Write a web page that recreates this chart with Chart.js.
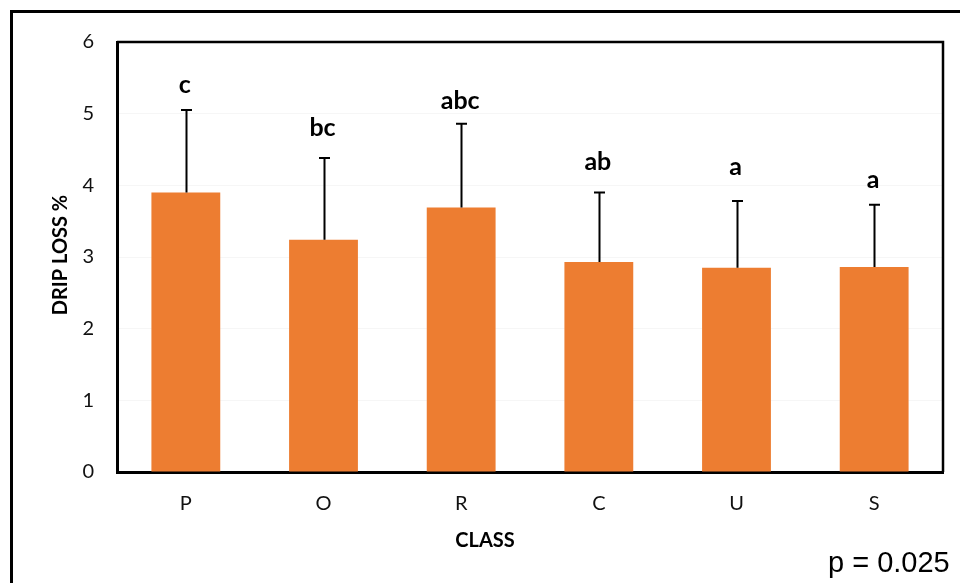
<!DOCTYPE html>
<html>
<head>
<meta charset="utf-8">
<script src="https://cdn.jsdelivr.net/npm/chart.js@4"></script>
<style>
  html, body { margin: 0; padding: 0; background: #fff; }
  #wrap { width: 960px; height: 583px; position: relative; }
</style>
</head>
<body>
<div id="wrap"><canvas id="c" width="960" height="583"></canvas></div>
<script>
// Drip loss by class: means, standard deviations and significance groups
const classes = ['P', 'O', 'R', 'C', 'U', 'S'];
const dripLoss = [3.90, 3.24, 3.69, 2.93, 2.85, 2.86];
const dripLossSD = [1.15, 1.14, 1.17, 0.97, 0.93, 0.87];
const groupLetters = ['c', 'bc', 'abc', 'ab', 'a', 'a'];
const yTicks = [0, 1, 2, 3, 4, 5, 6];
const pValueText = 'p = 0.025';

const ORANGE = '#ED7D31';
const TICK_FONT = { family: 'Lato', size: 20 };

// Error bars, group letters, plot frame, axis titles and outer border
const annotations = {
  id: 'annotations',
  afterDatasetsDraw(chart, args, opts) {
    const ctx = chart.ctx;
    const y = chart.scales.y;
    const meta = chart.getDatasetMeta(0);
    const area = chart.chartArea;

    ctx.save();
    // plot frame top and right edges
    ctx.strokeStyle = '#000';
    ctx.lineWidth = 2.5;
    ctx.beginPath();
    ctx.moveTo(area.left, area.top);
    ctx.lineTo(area.right, area.top);
    ctx.lineTo(area.right, area.bottom);
    ctx.stroke();

    // error bars (upper half only)
    ctx.lineWidth = 2;
    meta.data.forEach((bar, i) => {
      const topY = y.getPixelForValue(dripLoss[i] + dripLossSD[i]);
      const x = Math.round(bar.x) + 0.5;
      ctx.beginPath();
      ctx.moveTo(x, bar.y);
      ctx.lineTo(x, topY);
      ctx.moveTo(x - 5.5, topY);
      ctx.lineTo(x + 5.5, topY);
      ctx.stroke();

      // significance letter above the error bar
      ctx.fillStyle = '#000';
      ctx.font = 'bold 25px Lato';
      ctx.textAlign = 'center';
      ctx.textBaseline = 'alphabetic';
      ctx.fillText(groupLetters[i], bar.x - 1, topY - opts.letterGap[i]);
    });

    // axis titles
    ctx.font = 'bold 20px Lato';
    ctx.textAlign = 'center';
    ctx.textBaseline = 'middle';
    ctx.fillText('CLASS', 485, 541);
    ctx.save();
    ctx.translate(61, 255);
    ctx.rotate(-Math.PI / 2);
    ctx.fillText('DRIP LOSS %', 0, 0);
    ctx.restore();

    // p-value note
    ctx.font = '29px "Liberation Sans", Arial, sans-serif';
    ctx.textAlign = 'left';
    ctx.textBaseline = 'alphabetic';
    ctx.fillText(pValueText, 828, 572);

    // outer border
    ctx.lineWidth = 3;
    ctx.strokeRect(11.5, 11.5, 2000, 2000);
    ctx.restore();
  }
};

new Chart(document.getElementById('c'), {
  type: 'bar',
  data: {
    labels: classes,
    datasets: [{
      data: dripLoss,
      backgroundColor: ORANGE,
      borderWidth: 0,
      categoryPercentage: 1.0,
      barPercentage: 0.5
    }]
  },
  options: {
    responsive: false,
    animation: false,
    layout: { padding: { left: 0, top: 42, right: 17, bottom: 0 } },
    plugins: {
      legend: { display: false },
      tooltip: { enabled: false },
      annotations: { letterGap: [17, 22, 15, 23, 26, 17] }
    },
    scales: {
      x: {
        grid: { display: false, drawTicks: false },
        border: { display: true, color: '#000', width: 3 },
        ticks: { color: '#111', font: TICK_FONT, padding: 20 },
        afterFit(scale) { scale.height = 111; }
      },
      y: {
        min: 0,
        max: 6,
        afterBuildTicks(scale) { scale.ticks = yTicks.map(v => ({ value: v })); },
        grid: { color: 'rgba(0,0,0,0.035)', lineWidth: 1, drawTicks: false },
        border: { display: true, color: '#000', width: 3 },
        ticks: { color: '#111', font: TICK_FONT, padding: 23 },
        afterFit(scale) { scale.width = 117; }
      }
    }
  },
  plugins: [annotations]
});
</script>
</body>
</html>
